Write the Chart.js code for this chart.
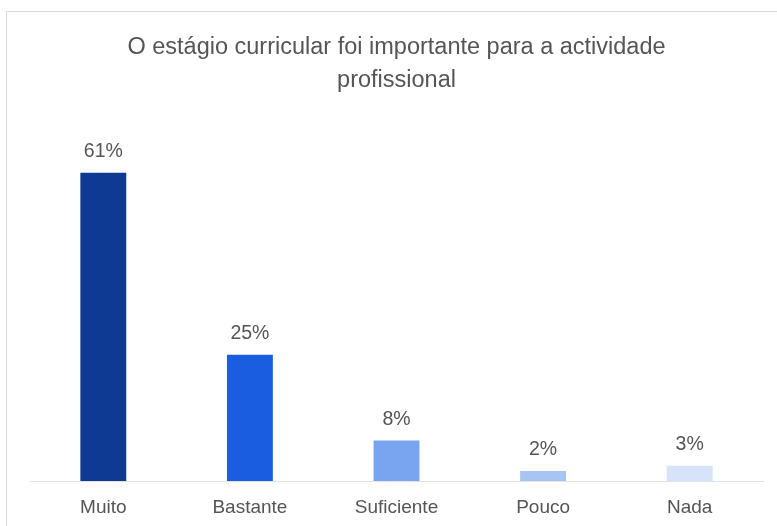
<!DOCTYPE html>
<html>
<head>
<meta charset="utf-8">
<script src="https://cdn.jsdelivr.net/npm/chart.js@4.4.0/dist/chart.umd.min.js"></script>
<style>
  body { margin: 0; background: #fff; }
  #frame {
    position: absolute; left: 6px; top: 11px;
    width: 800px; height: 540px;
    border: 1px solid #dadada;
  }
  #wrap { position: absolute; left: 0; top: 0; width: 777px; height: 526px; }
</style>
</head>
<body>
<div id="frame"></div>
<div id="wrap"><canvas id="bar-chart"></canvas></div>
<script>
// categories and values (percent)
const categories = ["Muito", "Bastante", "Suficiente", "Pouco", "Nada"];
const percentValues = [61, 25, 8, 2, 3];
const barColors = ["#0f3a93", "#1b5de0", "#79a5f0", "#a7c4f3", "#d6e3f8"];
const titleLines = ["O estágio curricular foi importante para a actividade", "profissional"];

// draws the "61%" labels on top of the bars
const valueLabels = {
  id: "valueLabels",
  afterDatasetsDraw(chart) {
    const ctx = chart.ctx;
    const meta = chart.getDatasetMeta(0);
    ctx.save();
    ctx.font = "19.5px 'Liberation Sans', Arial, sans-serif";
    ctx.fillStyle = "#555";
    ctx.textAlign = "center";
    ctx.textBaseline = "middle";
    meta.data.forEach((bar, i) => {
      ctx.fillText(percentValues[i] + "%", bar.x, bar.y - 21);
    });
    ctx.restore();
  },
};

function loadBarChart() {
  let barChart = document.getElementById("bar-chart");
  barChart = new Chart(barChart, {
    type: "bar",
    data: {
      labels: categories,
      datasets: [
        {
          data: percentValues,
          backgroundColor: barColors,
          borderWidth: 0,
          barPercentage: 0.313,
          categoryPercentage: 1,
        },
      ],
    },
    options: {
      responsive: true,
      maintainAspectRatio: false,
      animation: false,
      layout: { padding: { left: 30, right: 14, top: 0, bottom: 0 } },
      plugins: {
        legend: { display: false },
        tooltip: { enabled: false },
        title: {
          display: true,
          text: titleLines,
          color: "#555",
          font: { family: "'Liberation Sans', Arial, sans-serif", size: 23.5, weight: "normal", lineHeight: 1.4 },
          padding: { top: 31.5, bottom: 30 },
        },
      },
      scales: {
        x: {
          grid: { display: false, drawTicks: false },
          border: { display: true, color: "#e3e3e3", width: 1 },
          ticks: {
            color: "#555",
            padding: 15,
            font: { family: "'Liberation Sans', Arial, sans-serif", size: 19 },
          },
          afterFit(scale) {
            scale.height = 45; // keep the baseline at y ~481
          },
        },
        y: {
          display: false,
          min: 0,
          max: 70,
        },
      },
    },
    plugins: [valueLabels],
  });
}

loadBarChart();
</script>
</body>
</html>
